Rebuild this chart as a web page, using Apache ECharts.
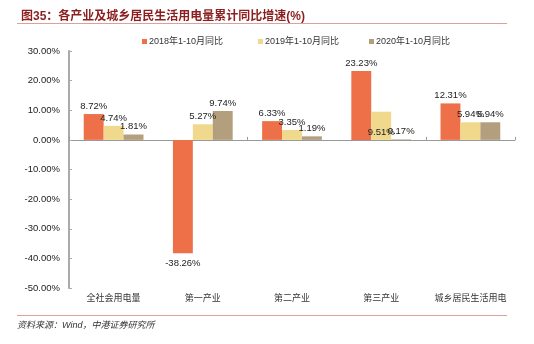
<!DOCTYPE html>
<html><head><meta charset="utf-8">
<script src="https://cdn.jsdelivr.net/npm/echarts@6/dist/echarts.min.js"></script>
<style>html,body{margin:0;padding:0;background:#fff}#c{width:534px;height:344px}</style>
</head><body><div id="c"></div>
<script>
const categories = ['全社会用电量','第一产业','第二产业','第三产业','城乡居民生活用电'];
const seriesNames = ['2018年1-10月同比','2019年1-10月同比','2020年1-10月同比'];
const s2018 = [8.72, -38.26, 6.33, 23.23, 12.31];
const s2019 = [4.74, 5.27, 3.35, 9.51, 5.94];
const s2020 = [1.81, 9.74, 1.19, 0.17, 5.94];
const colors = ['#EE7049', '#F0D98C', '#B39E7E'];
const yTicks = {min: -50, max: 30, interval: 10};

const chart = echarts.init(document.getElementById('c'), null, {renderer: 'canvas'});
const font = '"Liberation Sans", Arial, "Noto Sans CJK SC", sans-serif';
const lbl = {show: true, position: 'top', distance: 3, formatter: p => p.value.toFixed(2) + '%',
  color: '#222', fontSize: 9.5, fontFamily: font};
function mk(name, vals, color, special) {
  return {
    name, type: 'bar', xAxisIndex: 0, barGap: '0%', barCategoryGap: '33%',
    itemStyle: {color},
    label: lbl,
    labelLayout: {hideOverlap: false},
    data: vals.map((v, i) => {
      const o = {value: v};
      if (v < 0) o.label = {position: 'bottom', distance: 5};
      if (special && special[i]) o.label = special[i];
      return o;
    })
  };
}
chart.setOption({
  animation: false,
  textStyle: {fontFamily: font},
  title: {text: '图35：各产业及城乡居民生活用电量累计同比增速(%)', left: 16, top: 6,
    textStyle: {color: '#8B1E1E', fontSize: 12, fontWeight: 'bold', fontFamily: font}},
  graphic: [
    {type: 'line', shape: {x1: 17, y1: 23.5, x2: 507, y2: 23.5}, style: {stroke: '#D9A39C', lineWidth: 1}},
    {type: 'line', shape: {x1: 17, y1: 315.5, x2: 507, y2: 315.5}, style: {stroke: '#D9A39C', lineWidth: 1}},
    {type: 'text', left: 17, top: 321, style: {text: '资料来源：Wind，中港证券研究所', fill: '#333', fontSize: 9, fontStyle: 'italic', fontFamily: font}}
  ],
  legend: [0, 1, 2].map((i) => ({
    top: 32, left: [137, 253, 364][i], itemWidth: 5, itemHeight: 5, icon: 'rect',
    textStyle: {color: '#333', fontSize: 9, fontFamily: font, padding: [0, 0, 0, -3]},
    data: [seriesNames[i]]
  })),
  grid: {left: 69, right: 19, top: 51, bottom: 56},
  xAxis: [
    {type: 'category', data: categories,
      axisLine: {onZero: true, lineStyle: {color: '#999', width: 1}},
      axisTick: {show: true, inside: true, length: 3, lineStyle: {color: '#999'}},
      axisLabel: {show: false}},
    {type: 'category', data: categories, position: 'bottom',
      axisLine: {show: false}, axisTick: {show: false},
      axisLabel: {interval: 0, color: '#333', fontSize: 9, margin: 6, fontFamily: font}}
  ],
  yAxis: {type: 'value', min: yTicks.min, max: yTicks.max, interval: yTicks.interval,
    axisLine: {show: true, lineStyle: {color: '#aaa', width: 2}},
    axisTick: {show: true, inside: true, length: 3, lineStyle: {color: '#aaa'}},
    splitLine: {show: false},
    axisLabel: {color: '#222', fontSize: 9.5, margin: 9, fontFamily: font, formatter: v => v.toFixed(2) + '%'}},
  series: [
    mk(seriesNames[0], s2018, colors[0]),
    mk(seriesNames[1], s2019, colors[1], {3: {position: 'insideBottom', distance: 3}}),
    mk(seriesNames[2], s2020, colors[2])
  ]
});
</script></body></html>
